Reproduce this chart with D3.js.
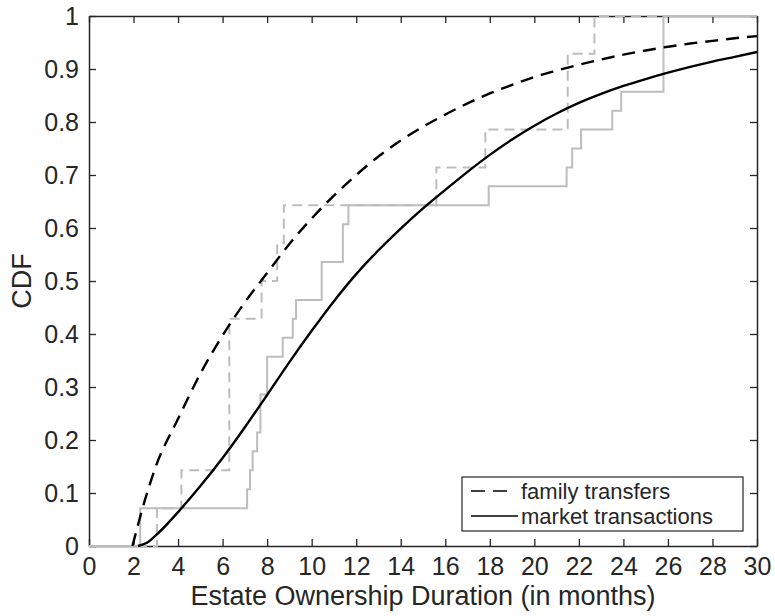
<!DOCTYPE html>
<html><head><meta charset="utf-8">
<script src="https://cdn.jsdelivr.net/npm/d3@7"></script>
<style>
body{margin:0;background:#fff}
svg{display:block}
text{font-family:"Liberation Sans",Arial,Helvetica,sans-serif;fill:#262626}
</style>
</head><body>
<svg id="chart" width="775" height="616"></svg>
<script>
// ---- data ----
const xTickValues = [0,2,4,6,8,10,12,14,16,18,20,22,24,26,28,30];
const yTickValues = [0,0.1,0.2,0.3,0.4,0.5,0.6,0.7,0.8,0.9,1];
const yTickLabels = ["0","0.1","0.2","0.3","0.4","0.5","0.6","0.7","0.8","0.9","1"];

// fitted CDF: family transfers (dashed black)
const familyFitX = [1.95,2.5,3,4,5,6,7,8,9,10,11,12,13,14,15,16,17,18,19,20,21,22,23,24,25,26,27,28,29,30];
const familyFitY = [0,0.085,0.15,0.24,0.325,0.397,0.46,0.515,0.57,0.618,0.661,0.70,0.735,0.765,0.791,0.814,0.835,0.854,0.87,0.885,0.897,0.908,0.918,0.927,0.935,0.942,0.948,0.953,0.958,0.962];

// fitted CDF: market transactions (solid black)
const marketFitX = [2.2,2.6,3,4,5,6,7,8,9,10,11,12,13,14,15,16,17,18,19,20,21,22,23,24,25,26,27,28,29,30];
const marketFitY = [0,0.006,0.02,0.064,0.113,0.166,0.224,0.285,0.347,0.406,0.462,0.513,0.558,0.599,0.637,0.672,0.706,0.738,0.767,0.793,0.816,0.836,0.853,0.868,0.881,0.893,0.904,0.914,0.923,0.932];

// empirical CDF: family transfers (dashed gray steps)
const familyEmpX = [0,3.05,4.15,6.3,7.75,8.45,8.75,15.6,17.8,21.5,22.7,30];
const familyEmpY = [0,0.0714,0.143,0.429,0.5,0.571,0.643,0.714,0.786,0.929,1,1];

// empirical CDF: market transactions (solid gray steps)
const marketEmpX = [0,2.3,7.1,7.23,7.35,7.55,7.7,8.0,8.7,9.15,9.3,10.45,11.4,11.65,17.95,21.45,21.7,22.1,23.5,23.9,25.8,30];
const marketEmpY = [0,0.0714,0.107,0.143,0.179,0.214,0.286,0.357,0.393,0.429,0.464,0.536,0.607,0.643,0.679,0.714,0.75,0.786,0.821,0.857,1,1];

const legendLabels = ["family transfers","market transactions"];

// ---- layout ----
const W = 775, H = 616;
const m = {left:89, right:18, top:16, bottom:70};
const svg = d3.select("#chart");
const x = d3.scaleLinear().domain([0,30]).range([m.left, W-m.right]);
const y = d3.scaleLinear().domain([0,1]).range([H-m.bottom, m.top]);
const axisColor = "#262626";
const tickFont = 25;

// axes (box with inward ticks)
const gx = svg.append("g").attr("transform",`translate(0,${y(0)})`)
  .call(d3.axisBottom(x).tickValues(xTickValues).tickSizeInner(-7).tickSizeOuter(0).tickPadding(11).tickFormat(d3.format("d")));
const gxTop = svg.append("g").attr("transform",`translate(0,${y(1)})`)
  .call(d3.axisTop(x).tickValues(xTickValues).tickSizeInner(-7).tickSizeOuter(0).tickFormat(""));
const gy = svg.append("g").attr("transform",`translate(${x(0)},0)`)
  .call(d3.axisLeft(y).tickValues(yTickValues).tickSizeInner(-7).tickSizeOuter(0).tickPadding(10).tickFormat((d,i)=>yTickLabels[i]));
const gyR = svg.append("g").attr("transform",`translate(${x(30)},0)`)
  .call(d3.axisRight(y).tickValues(yTickValues).tickSizeInner(-7).tickSizeOuter(0).tickFormat(""));
[gx,gxTop,gy,gyR].forEach(g=>{
  g.select(".domain").attr("stroke",axisColor).attr("stroke-width",1.5);
  g.selectAll(".tick line").attr("stroke",axisColor).attr("stroke-width",1.3);
  g.selectAll("text").attr("font-size",tickFont).attr("fill",axisColor)
    .style("font-family",'"Liberation Sans",Arial,sans-serif');
});
gx.selectAll("text").attr("dy","0.71em");

// axis labels
svg.append("text").attr("x",(x(0)+x(30))/2).attr("y",605).attr("text-anchor","middle")
  .attr("font-size",27).text("Estate Ownership Duration (in months)");
svg.append("text").attr("transform",`translate(31,${(y(0)+y(1))/2}) rotate(-90)`).attr("text-anchor","middle")
  .attr("font-size",27).text("CDF");

// lines
const stepLine = d3.line().x(d=>x(d[0])).y(d=>y(d[1])).curve(d3.curveStepAfter);
const smoothLine = d3.line().x(d=>x(d[0])).y(d=>y(d[1])).curve(d3.curveMonotoneX);
const gray = "#bdbdbd";

svg.append("path").datum(marketEmpX.map((v,i)=>[v,marketEmpY[i]]))
  .attr("d",stepLine).attr("fill","none").attr("stroke",gray).attr("stroke-width",2);
svg.append("path").datum(familyEmpX.map((v,i)=>[v,familyEmpY[i]]))
  .attr("d",stepLine).attr("fill","none").attr("stroke",gray).attr("stroke-width",2)
  .attr("stroke-dasharray","10,6");

svg.append("path").datum(familyFitX.map((v,i)=>[v,familyFitY[i]]))
  .attr("d",smoothLine).attr("fill","none").attr("stroke","#000").attr("stroke-width",2.4)
  .attr("stroke-dasharray","13,8");
svg.append("path").datum(marketFitX.map((v,i)=>[v,marketFitY[i]]))
  .attr("d",smoothLine).attr("fill","none").attr("stroke","#000").attr("stroke-width",2.4);

// legend
const lg = svg.append("g");
lg.append("rect").attr("x",462).attr("y",477).attr("width",281).attr("height",54)
  .attr("fill","#fff").attr("stroke",axisColor).attr("stroke-width",1.2);
const rowsY = [491,516];
const dashes = ["14,8",null];
legendLabels.forEach((lab,i)=>{
  const l = lg.append("line").attr("x1",471).attr("x2",i===0?512:518).attr("y1",rowsY[i]).attr("y2",rowsY[i])
    .attr("stroke","#000").attr("stroke-width",1.5);
  if(dashes[i]) l.attr("stroke-dasharray",dashes[i]);
  lg.append("text").attr("x",521).attr("y",rowsY[i]).attr("dy","0.35em")
    .attr("font-size",22).attr("fill","#000").text(lab);
});
</script>
</body></html>
